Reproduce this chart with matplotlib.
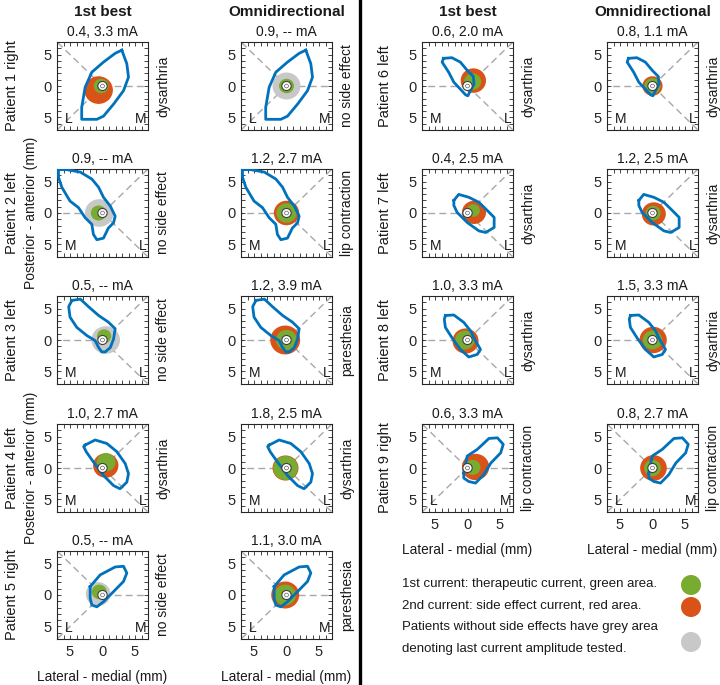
import numpy as np
import matplotlib.pyplot as plt
from matplotlib.patches import Circle
from matplotlib.ticker import MultipleLocator, FuncFormatter

plt.rcParams['font.family'] = ['Liberation Sans', 'DejaVu Sans']

# Patients, hemisphere and side effects
patients = ['Patient 1 right', 'Patient 2 left', 'Patient 3 left', 'Patient 4 left',
            'Patient 5 right', 'Patient 6 left', 'Patient 7 left', 'Patient 8 left',
            'Patient 9 right']
sides = ['right', 'left', 'left', 'left', 'right', 'left', 'left', 'left', 'right']
titles_best = ['0.4, 3.3 mA', '0.9, -- mA', '0.5, -- mA', '1.0, 2.7 mA', '0.5, -- mA',
               '0.6, 2.0 mA', '0.4, 2.5 mA', '1.0, 3.3 mA', '0.6, 3.3 mA']
titles_omni = ['0.9, -- mA', '1.2, 2.7 mA', '1.2, 3.9 mA', '1.8, 2.5 mA', '1.1, 3.0 mA',
               '0.8, 1.1 mA', '1.2, 2.5 mA', '1.5, 3.3 mA', '0.8, 2.7 mA']
effects_best = ['dysarthria', 'no side effect', 'no side effect', 'dysarthria', 'no side effect',
                'dysarthria', 'dysarthria', 'dysarthria', 'lip contraction']
effects_omni = ['no side effect', 'lip contraction', 'paresthesia', 'dysarthria', 'paresthesia',
                'dysarthria', 'dysarthria', 'dysarthria', 'lip contraction']

# Target contours (mm)
contour_x = [
    [2.97, 3.74, 4.0, 3.23, 1.69, 0.15, -0.87, -3.2, -3.2, -2.67, -1.64, 0.15, 1.95],
    [-6.77, -5.5, -3.4, -1.64, -0.6, 0.15, 1.2, 1.95, 1.7, 0.9, 0.15, -0.87, -1.4, -1.64, -2.67, -3.7, -5.0, -6.26, -6.77],
    [-4.7, -3.4, -2.15, -0.6, 0.9, 1.95, 1.7, 1.2, 0.4, -0.1, -0.6, -1.13, -2.4, -3.95, -5.0, -5.2],
    [-2.67, -1.13, 0.67, 2.2, 3.5, 4.0, 3.74, 2.7, 1.7, 0.15, -1.4, -2.5, -2.9],
    [-1.9, -0.36, 1.95, 3.23, 3.74, 3.23, 1.7, 0.15, -0.87, -1.64, -1.9],
    [-3.7, -2.4, -1.1, -0.05, 0.9, 1.0, 0.45, 0.05, -0.3, -1.1, -2.1, -2.9, -3.9],
    [-2.1, -1.35, 0.2, 1.76, 2.8, 4.1, 4.1, 2.8, 1.76, -0.05, -1.6, -2.1],
    [-3.4, -2.1, -0.57, 0.47, 1.24, 2.0, 1.5, 0.2, -1.1, -2.4, -3.4, -3.57],
    [-0.57, -0.05, 1.5, 3.3, 4.6, 5.5, 5.1, 3.6, 2.5, 1.24, 0.2, -0.57],
]
contour_y = [
    [5.7, 3.55, 1.4, -0.75, -2.9, -4.8, -5.3, -5.3, -3.4, -0.2, 2.2, 3.8, 5.2],
    [6.9, 6.9, 6.5, 5.4, 4.1, 2.5, 1.1, -0.5, -1.56, -2.4, -4.0, -4.25, -3.4, -1.8, -0.75, 0.86, 1.9, 4.1, 5.7],
    [6.3, 6.5, 5.3, 3.9, 2.85, 1.8, 0.15, -1.2, -1.9, -1.9, -1.2, -0.1, 0.7, 2.0, 3.65, 5.3],
    [3.65, 4.46, 3.9, 2.6, 0.7, -0.9, -2.26, -3.3, -2.8, -1.18, 0.97, 2.58, 3.4],
    [1.34, 3.2, 4.46, 4.57, 3.5, 2.15, 0.54, -1.07, -1.88, -1.6, -0.54],
    [4.4, 4.5, 3.8, 2.5, 1.5, 0.3, -0.75, -1.56, -1.4, -0.5, 0.6, 2.2, 3.8],
    [2.0, 2.96, 2.5, 1.7, 0.65, -0.7, -2.3, -3.1, -2.85, -1.5, 0.1, 1.2],
    [3.9, 3.98, 2.8, 1.45, -0.16, -1.5, -2.3, -2.7, -1.5, 0.38, 2.0, 3.3],
    [-0.8, 1.9, 2.96, 4.7, 4.8, 3.76, 2.4, 0.8, -1.07, -2.4, -2.15, -1.6],
]

# Activation areas (cx, cy, radius) in mm
best_outer = [(-0.6, -0.65, 2.2), (-0.5, 0.0, 2.2), (0.5, 0.0, 2.2), (0.5, 0.4, 1.95), (-0.67, 0.15, 1.9),
              (0.9, 0.86, 1.95), (1.0, 0.1, 1.85), (-0.3, -0.16, 2.0), (1.24, 0.16, 2.1)]
best_green = [(-0.2, 0.0, 1.15), (-0.6, 0.0, 1.2), (0.25, 0.6, 1.1), (0.55, 0.9, 1.45), (-0.5, 0.5, 1.15),
              (0.8, 0.7, 1.3), (0.9, 0.4, 1.0), (-0.4, 0.0, 1.5), (0.8, 0.1, 1.2)]
omni_outer = [(0, 0, 2.15), (0, 0, 1.95), (-0.2, 0, 2.3), (-0.15, 0, 2.0), (-0.2, 0, 2.15),
              (0, 0, 1.55), (0.2, -0.15, 1.85), (0.1, 0, 2.1), (0.15, 0, 2.05)]
omni_green = [(0, 0, 1.15), (0, 0, 1.55), (0, 0, 1.6), (-0.15, 0, 1.9), (-0.2, 0, 1.65),
              (0, 0, 1.25), (0.1, 0, 1.15), (0, 0, 1.5), (0, 0, 1.3)]

GREEN = '#77AC30'
RED = '#D95319'
GREY = '#C8C8C8'
BLUE = '#0072BD'
TXT = '#1a1a1a'

W, H = 720, 685
fig = plt.figure(figsize=(7.2, 6.85), dpi=100)

col_left = [57, 241, 422, 607]
row_top = [42, 169, 296, 424, 551]
bw, bh = 91, 88


def panel(i, col, row, title, effect, outer, green, last_row):
    l, t = col_left[col], row_top[row]
    ax = fig.add_axes([l / W, 1 - (t + bh) / H, bw / W, bh / H])
    ax.set_xlim(-7, 7)
    ax.set_ylim(-7, 7)
    # direction rays
    angles = [0, 135, 225] if sides[i] == 'right' else [180, 45, -45]
    for a in angles:
        r = np.deg2rad(a)
        ax.plot([0, 11 * np.cos(r)], [0, 11 * np.sin(r)], color='#a8a8a8',
                lw=1.0, dashes=(5, 3), zorder=1)
    oc = GREY if '--' in title else RED
    ax.add_patch(Circle(outer[:2], outer[2], fc=oc, ec='none', zorder=2))
    ax.add_patch(Circle(green[:2], green[2], fc=GREEN, ec='none', zorder=3))
    cx = contour_x[i] + contour_x[i][:1]
    cy = contour_y[i] + contour_y[i][:1]
    ax.plot(cx, cy, color=BLUE, lw=2.0, solid_joinstyle='round', zorder=4)
    ax.add_patch(Circle((0, 0), 0.72, fc='white', ec='#404040', lw=0.8, zorder=5))
    ax.add_patch(Circle((0, 0), 0.3, fc='none', ec='#606060', lw=0.5, zorder=6))
    lab_l, lab_r = ('L', 'M') if sides[i] == 'right' else ('M', 'L')
    ax.text(-5.8, -5.3, lab_l, ha='left', va='center', fontsize=10, color=TXT, zorder=7)
    ax.text(6.8, -5.3, lab_r, ha='right', va='center', fontsize=10, color=TXT, zorder=7)

    ax.xaxis.set_major_locator(MultipleLocator(5))
    ax.yaxis.set_major_locator(MultipleLocator(5))
    ax.xaxis.set_minor_locator(MultipleLocator(1))
    ax.yaxis.set_minor_locator(MultipleLocator(1))
    fmt = FuncFormatter(lambda v, p: f'{abs(v):g}')
    ax.xaxis.set_major_formatter(fmt)
    ax.yaxis.set_major_formatter(fmt)
    ax.tick_params(which='both', direction='in', top=True, right=True, length=3,
                   width=0.6, colors='#262626', labelsize=10.5, pad=4)
    ax.tick_params(labelbottom=last_row)
    for s in ax.spines.values():
        s.set_color('#262626')
        s.set_linewidth(0.8)
    ax.text(0.5, 1 + 10 / bh, title, transform=ax.transAxes, ha='center', va='center',
            fontsize=10, color=TXT)
    ax.text(1 + 8 / bw, 0.5, effect, transform=ax.transAxes, rotation=90, ha='left',
            va='center', fontsize=10, color=TXT)
    if last_row:
        ax.text(0.5, -(38 / bh), 'Lateral - medial (mm)', transform=ax.transAxes,
                ha='center', va='center', fontsize=9.8, color=TXT)
    return ax


for i in range(9):
    if i < 5:
        row, c0, last = i, 0, i == 4
    else:
        row, c0, last = i - 5, 2, i == 8
    panel(i, c0, row, titles_best[i], effects_best[i], best_outer[i], best_green[i], last)
    panel(i, c0 + 1, row, titles_omni[i], effects_omni[i], omni_outer[i], omni_green[i], last)

# overlay in pixel coordinates for labels, separator and legend
ov = fig.add_axes([0, 0, 1, 1], zorder=-1)
ov.set_xlim(0, W)
ov.set_ylim(H, 0)
ov.axis('off')

for c, name in zip(col_left, ['1st best', 'Omnidirectional', '1st best', 'Omnidirectional']):
    ov.text(c + bw / 2, 12, name, ha='center', va='center', fontsize=11,
            fontweight='bold', color=TXT)

for i, name in enumerate(patients):
    if i < 5:
        x, row = 12, i
    else:
        x, row = 385, i - 5
    ov.text(x, row_top[row] + bh / 2, name, rotation=90, ha='center', va='center',
            fontsize=10.5, color=TXT)
for row in [1, 3]:
    ov.text(31, row_top[row] + bh / 2, 'Posterior - anterior (mm)', rotation=90,
            ha='center', va='center', fontsize=10, color=TXT)

ov.plot([360, 360], [0, H], color='black', lw=2.4)

legend_lines = ['1st current: therapeutic current, green area.',
                '2nd current: side effect current, red area.',
                'Patients without side effects have grey area',
                'denoting last current amplitude tested.']
for k, s in enumerate(legend_lines):
    ov.text(402, 584 + 21.7 * k, s, ha='left', va='center', fontsize=9.5, color=TXT)
for yy, col in zip([585, 607, 642], [GREEN, RED, GREY]):
    ov.add_patch(Circle((691, yy), 10, fc=col, ec='none'))

fig.savefig('out.png', dpi=100)
